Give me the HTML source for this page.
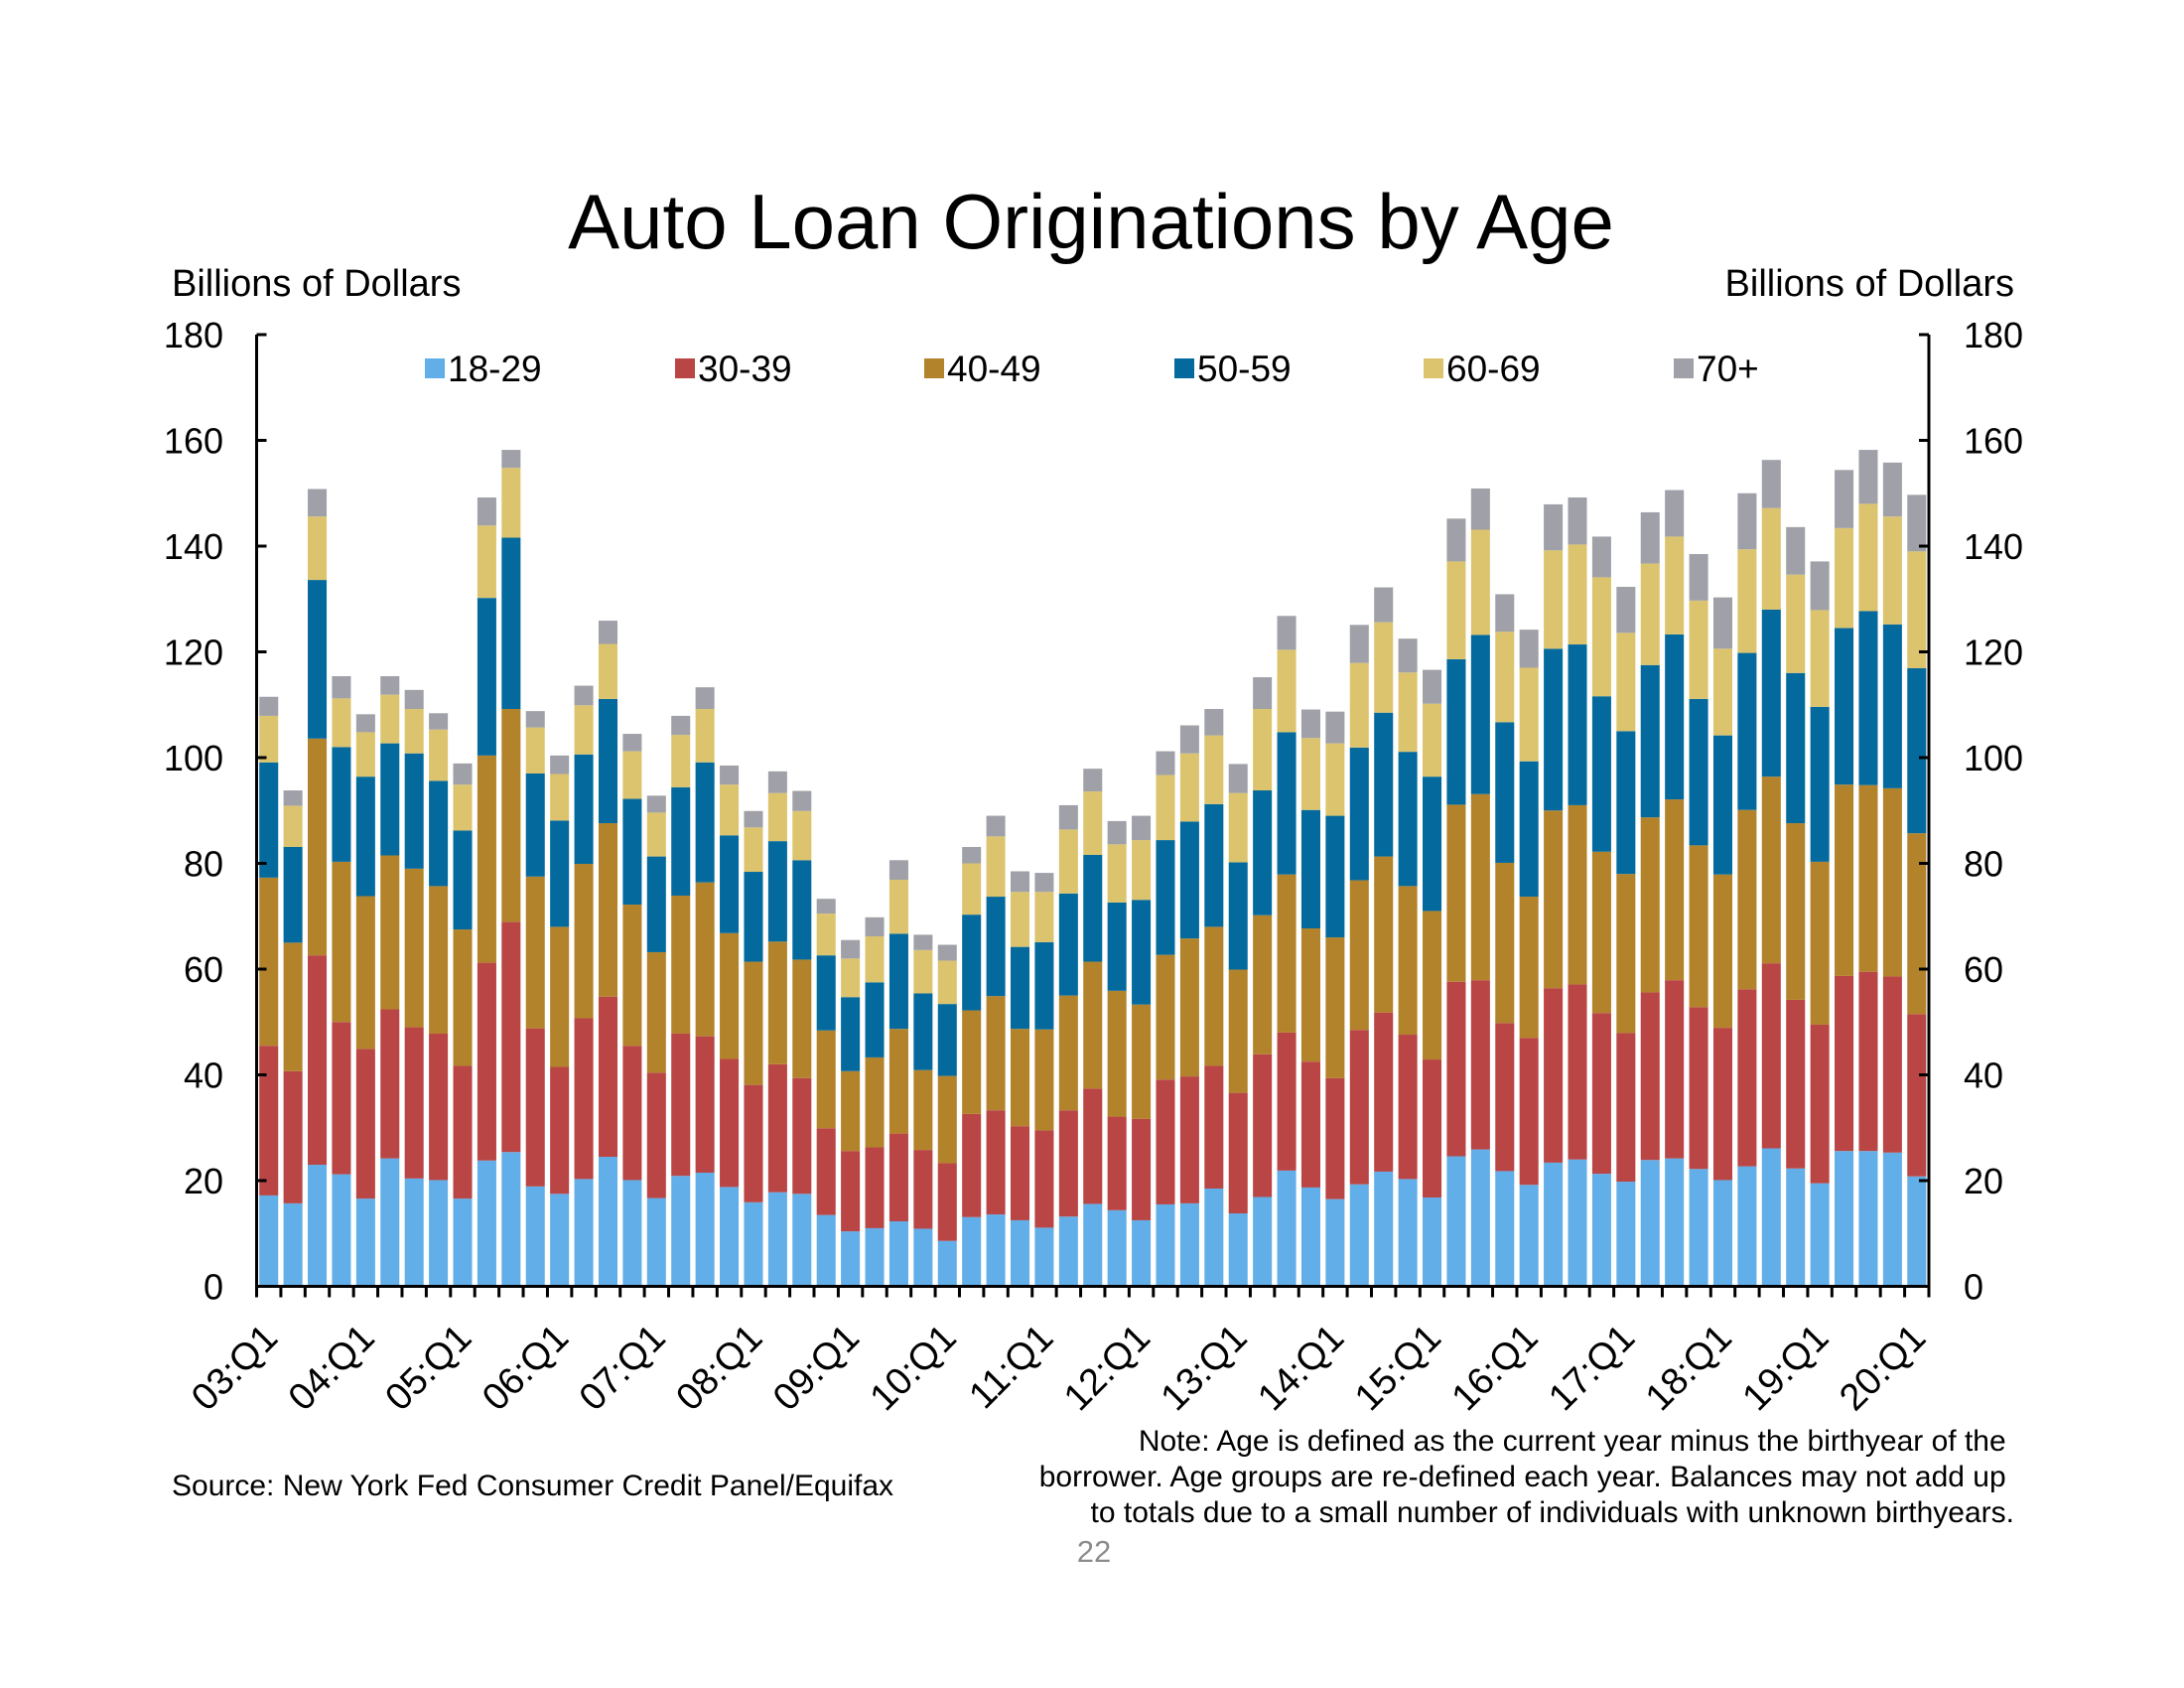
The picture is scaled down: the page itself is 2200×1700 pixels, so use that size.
<!DOCTYPE html>
<html><head><meta charset="utf-8">
<style>
html,body{margin:0;padding:0;background:#fff;}
svg{display:block;font-family:"Liberation Sans",Arial,sans-serif;}
</style></head>
<body>
<svg id="chart" width="2200" height="1700" viewBox="0 0 2200 1700" xmlns="http://www.w3.org/2000/svg">
<text x="1099" y="250" font-size="78" text-anchor="middle" fill="#000">Auto Loan Originations by Age</text>
<text x="173" y="298" font-size="38" fill="#000">Billions of Dollars</text>
<text x="2029" y="298" font-size="38" text-anchor="end" fill="#000">Billions of Dollars</text>
<g id="bars"></g>
<g id="axes"></g>
<g id="legend"></g>
<text x="173" y="1506" font-size="30" fill="#000">Source: New York Fed Consumer Credit Panel/Equifax</text>
<text font-size="30" fill="#000" text-anchor="end">
<tspan x="2029" y="1461">Note: Age is defined as the current year minus the birthyear of the</tspan>
<tspan x="2029" y="1497">borrower. Age groups are re-defined each year. Balances may not add up</tspan>
<tspan x="2029" y="1533">to totals due to a small number of individuals with unknown birthyears.</tspan>
</text>
<text x="1102" y="1573" font-size="31" text-anchor="middle" fill="#8c8c8c">22</text>
</svg>
<script>
const seriesNames = ["18-29","30-39","40-49","50-59","60-69","70+"];
const seriesColors = ["#62aee8","#b94545","#b3832b","#046a9e","#dcc46e","#a0a1a8"];
const yTicks = [0,20,40,60,80,100,120,140,160,180];
const xLabels = ["03:Q1","04:Q1","05:Q1","06:Q1","07:Q1","08:Q1","09:Q1","10:Q1","11:Q1","12:Q1","13:Q1","14:Q1","15:Q1","16:Q1","17:Q1","18:Q1","19:Q1","20:Q1"];
const s1829 = [17.2,15.7,23.0,21.2,16.6,24.2,20.4,20.1,16.6,23.8,25.4,18.9,17.5,20.3,24.5,20.1,16.7,20.9,21.5,18.8,15.9,17.8,17.5,13.5,10.4,11.0,12.3,10.9,8.6,13.1,13.6,12.5,11.1,13.2,15.6,14.4,12.5,15.5,15.7,18.5,13.8,16.9,21.9,18.7,16.5,19.3,21.7,20.3,16.8,24.6,25.9,21.8,19.2,23.4,24.0,21.3,19.8,23.9,24.2,22.2,20.1,22.7,26.1,22.3,19.5,25.6,25.6,25.3,20.8];
const s3039 = [28.3,25.0,39.6,28.8,28.3,28.2,28.6,27.7,25.1,37.4,43.5,29.9,24.0,30.4,30.3,25.4,23.7,26.9,25.8,24.2,22.2,24.2,21.9,16.4,15.2,15.3,16.6,14.9,14.7,19.5,19.7,17.8,18.4,20.1,21.8,17.7,19.2,23.6,24.0,23.2,22.8,27.0,26.1,23.8,22.9,29.2,30.1,27.3,26.1,33.0,32.0,28.0,27.8,33.0,33.1,30.4,28.1,31.7,33.7,30.6,28.8,33.5,35.0,31.9,30.0,33.1,33.9,33.3,30.7];
const s4049 = [31.8,24.3,41.0,30.3,28.9,29.1,30.0,27.9,25.8,39.2,40.3,28.7,26.5,29.2,32.8,26.7,22.8,26.1,29.1,23.8,23.3,23.2,22.4,18.5,15.1,17.0,19.8,15.1,16.5,19.6,21.6,18.4,19.1,21.7,24.0,23.8,21.6,23.6,26.1,26.3,23.3,26.3,29.9,25.2,26.6,28.3,29.5,28.1,28.1,33.5,35.2,30.3,26.7,33.6,33.9,30.5,30.1,33.1,34.2,30.6,29.0,33.9,35.3,33.4,30.8,36.2,35.3,35.6,34.2];
const s5059 = [21.8,18.1,30.0,21.7,22.6,21.2,21.8,19.9,18.7,29.8,32.4,19.5,20.1,20.7,23.5,20.0,18.1,20.5,22.7,18.5,17.0,19.0,18.8,14.2,14.0,14.2,18.0,14.5,13.6,18.1,18.8,15.5,16.5,19.3,20.2,16.7,19.8,21.7,22.1,23.2,20.3,23.6,26.9,22.4,23.0,25.1,27.2,25.4,25.4,27.5,30.1,26.6,25.6,30.6,30.4,29.4,27.0,28.8,31.2,27.7,26.3,29.7,31.6,28.4,29.3,29.6,32.9,31.0,31.2];
const s6069 = [8.8,7.8,12.0,9.2,8.4,9.2,8.4,9.7,8.7,13.7,13.2,8.7,8.8,9.3,10.4,9.0,8.3,9.9,10.1,9.6,8.4,9.1,9.3,7.9,7.3,8.7,10.2,8.2,8.2,9.7,11.4,10.4,9.5,12.1,12.0,11.0,11.3,12.3,12.9,13.0,13.1,15.4,15.6,13.6,13.7,16.0,17.1,15.0,13.8,18.5,19.9,17.1,17.7,18.6,18.9,22.5,18.6,19.2,18.5,18.6,16.4,19.6,19.2,18.6,18.3,18.9,20.3,20.4,22.1];
const s70 = [3.6,2.9,5.2,4.2,3.4,3.5,3.6,3.1,4.0,5.3,3.4,3.1,3.5,3.7,4.4,3.3,3.2,3.6,4.1,3.6,3.1,4.1,3.8,2.8,3.5,3.6,3.7,2.9,3.0,3.1,3.9,3.9,3.6,4.6,4.3,4.4,4.6,4.5,5.3,5.0,5.5,6.0,6.4,5.4,6.0,7.2,6.6,6.4,6.4,8.1,7.8,7.1,7.2,8.7,8.9,7.7,8.7,9.7,8.8,8.8,9.7,10.6,9.1,9.0,9.2,11.0,10.2,10.2,10.7];

const NS="http://www.w3.org/2000/svg";
const L=258.5,R=1943,T=337,B=1295.5,YMAX=180;
const allSeries=[s1829,s3039,s4049,s5059,s6069,s70];
const n=s1829.length;
const slot=(R-L)/n;
const bw=slot*0.78;
function y(v){return B-(v/YMAX)*(B-T);}
function xs(i){return L+i*slot;}
function mk(tag,attrs,parent){const e=document.createElementNS(NS,tag);for(const k in attrs)e.setAttribute(k,attrs[k]);parent.appendChild(e);return e;}

const gb=document.getElementById('bars');
for(let i=0;i<n;i++){
  let acc=0;
  for(let s=0;s<allSeries.length;s++){
    const v=allSeries[s][i];
    const r=mk('rect',{x:(xs(i)+(slot-bw)/2).toFixed(2),y:y(acc+v).toFixed(2),width:bw.toFixed(2),height:(y(acc)-y(acc+v)).toFixed(2),fill:seriesColors[s]},gb);
    
    
    acc+=v;
  }
}

const ga=document.getElementById('axes');
const frame=mk('path',{d:`M${L},${T}V${B}H${R}V${T}`,fill:'none',stroke:'#000','stroke-width':3},ga);


yTicks.forEach(t=>{
  const yy=y(t);
  mk('line',{x1:L,x2:L+10,y1:yy,y2:yy,stroke:'#000','stroke-width':3},ga);
  mk('line',{x1:R-10,x2:R,y1:yy,y2:yy,stroke:'#000','stroke-width':3},ga);
  const tl=mk('text',{x:225,y:yy+13,'font-size':36,'text-anchor':'end',fill:'#000'},ga);
  tl.textContent=t;
  
  
  const tr=mk('text',{x:1978,y:yy+13,'font-size':36,'text-anchor':'start',fill:'#000'},ga);
  tr.textContent=t;
  
  
});
for(let i=0;i<=n;i++){
  mk('line',{x1:xs(i),x2:xs(i),y1:B,y2:B+11,stroke:'#000','stroke-width':3},ga);
}
xLabels.forEach((lab,k)=>{
  const cx=xs(k*4)+slot/2+11;
  const cy=B+54;
  const t=mk('text',{x:cx,y:cy,'font-size':38,'text-anchor':'end',fill:'#000',transform:`rotate(-45 ${cx} ${cy})`},ga);
  t.textContent=lab;
  
  
});

const gl=document.getElementById('legend');
const legX=[428,680,931,1183,1434,1686];
seriesNames.forEach((nm,s)=>{
  const g=mk('g',{},gl);
  
  
  mk('rect',{x:legX[s],y:361,width:20,height:20,fill:seriesColors[s]},g);
  const t=mk('text',{x:legX[s]+23,y:384,'font-size':37,fill:'#000'},g);
  t.textContent=nm;
});
</script>
</body></html>
